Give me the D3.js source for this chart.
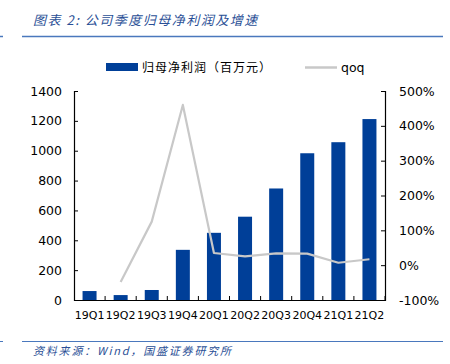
<!DOCTYPE html>
<html>
<head>
<meta charset="utf-8">
<script src="https://cdn.jsdelivr.net/npm/d3@7"></script>
<style>
  body { margin: 0; background: #fff; }
  svg { display: block; font-family: "DejaVu Sans", "Noto Sans CJK SC", sans-serif; }
</style>
</head>
<body>
<svg width="450" height="364"></svg>
<script>
var quarters = ["19Q1", "19Q2", "19Q3", "19Q4", "20Q1", "20Q2", "20Q3", "20Q4", "21Q1", "21Q2"];
var profit = [60, 33, 67, 336, 450, 558, 747, 983, 1057, 1212];
var qoq = [null, -0.48, 1.25, 4.6, 0.35, 0.25, 0.34, 0.33, 0.07, 0.17];
var leftTicks = [0, 200, 400, 600, 800, 1000, 1200, 1400];
var rightTicks = [-1, 0, 1, 2, 3, 4, 5];

var svg = d3.select("svg");
var margin = { top: 91, left: 74, right: 65, bottom: 64 };
var width = 450 - margin.left - margin.right;
var height = 364 - margin.top - margin.bottom;
var blue = "#003f98", gray = "#c8c8c8", cn = "'Noto Sans CJK SC', sans-serif";
var latin = "'DejaVu Sans', sans-serif";

// header
svg.append("text").attr("x", 33).attr("y", 25).attr("fill", "#2a4f96")
  .attr("font-size", 13).attr("font-style", "italic").attr("font-family", cn)
  .attr("letter-spacing", 1.5)
  .text("图表 2:  公司季度归母净利润及增速");
svg.append("line").attr("x1", 22).attr("x2", 443).attr("y1", 36.5).attr("y2", 36.5)
  .attr("stroke", "#4a78bd").attr("stroke-width", 1.5);
svg.append("line").attr("x1", 0).attr("x2", 3).attr("y1", 36.5).attr("y2", 36.5)
  .attr("stroke", "#4a78bd").attr("stroke-width", 1.5);

// footer
svg.append("line").attr("x1", 22).attr("x2", 443).attr("y1", 341.5).attr("y2", 341.5)
  .attr("stroke", "#4a78bd").attr("stroke-width", 1);
svg.append("line").attr("x1", 0).attr("x2", 3).attr("y1", 341.5).attr("y2", 341.5)
  .attr("stroke", "#4a78bd").attr("stroke-width", 1);
svg.append("text").attr("x", 33).attr("y", 355).attr("fill", "#2a4f96")
  .attr("font-size", 11).attr("font-style", "italic").attr("font-family", cn)
  .attr("letter-spacing", 1.8)
  .text("资料来源：Wind，国盛证券研究所");

var g = svg.append("g").attr("transform", "translate(" + margin.left + "," + margin.top + ")");

var x = d3.scaleBand().domain(quarters).range([0, width]).paddingInner(0.55).paddingOuter(0.275);
var xb = d3.scaleBand().domain(quarters).range([0, width]);
var y = d3.scaleLinear().domain([0, 1400]).range([height, 0]);
var y2 = d3.scaleLinear().domain([-1, 5]).range([height, 0]);

// bars
g.selectAll(".bar").data(profit).enter().append("rect")
  .attr("x", function(d, i) { return x(quarters[i]); })
  .attr("y", function(d) { return y(d); })
  .attr("width", x.bandwidth())
  .attr("height", function(d) { return height - y(d); })
  .attr("fill", blue);

// line
var line = d3.line()
  .defined(function(d) { return d != null; })
  .x(function(d, i) { return xb(quarters[i]) + xb.bandwidth() / 2; })
  .y(function(d) { return y2(d); });
g.append("path").datum(qoq).attr("fill", "none").attr("stroke", gray)
  .attr("stroke-width", 2.2).attr("stroke-linejoin", "round").attr("d", line);

// axes
var axL = g.append("g").call(d3.axisLeft(y).tickValues(leftTicks).tickFormat(d3.format("d"))
  .tickSizeInner(-4).tickSizeOuter(-4).tickPadding(14));
var axR = g.append("g").attr("transform", "translate(" + width + ",0)")
  .call(d3.axisRight(y2).tickValues(rightTicks).tickSizeInner(-4).tickSizeOuter(-4).tickPadding(14)
    .tickFormat(function(d) { return d * 100 + "%"; }));
var axB = g.append("g").attr("transform", "translate(0," + height + ")")
  .call(d3.axisBottom(xb).tickSize(0).tickPadding(11));
axB.selectAll(".tick").append("line")
  .attr("x1", xb.bandwidth() / 2).attr("x2", xb.bandwidth() / 2)
  .attr("y1", 0).attr("y2", -4).attr("stroke", "#000");

[axL, axR, axB].forEach(function(a) {
  a.selectAll(".domain").attr("stroke", "#000").attr("stroke-width", 1.2);
  a.selectAll("text").attr("font-size", 12.5).attr("fill", "#000").attr("font-family", latin);
});
axB.selectAll("text").attr("font-size", 11);
axL.selectAll(".tick text").attr("x", -12);
axR.selectAll(".tick text").attr("text-anchor", "start");

// legend
var lg = svg.append("g");
lg.append("rect").attr("x", 106).attr("y", 63).attr("width", 32).attr("height", 8).attr("fill", blue);
lg.append("text").attr("x", 142).attr("y", 72).attr("font-size", 12).attr("font-family", cn)
  .attr("letter-spacing", 1)
  .text("归母净利润（百万元）");
lg.append("line").attr("x1", 305).attr("x2", 337).attr("y1", 67.5).attr("y2", 67.5)
  .attr("stroke", gray).attr("stroke-width", 2.5);
lg.append("text").attr("x", 341).attr("y", 72).attr("font-size", 12.5)
  .attr("font-family", latin).text("qoq");
</script>
</body>
</html>
